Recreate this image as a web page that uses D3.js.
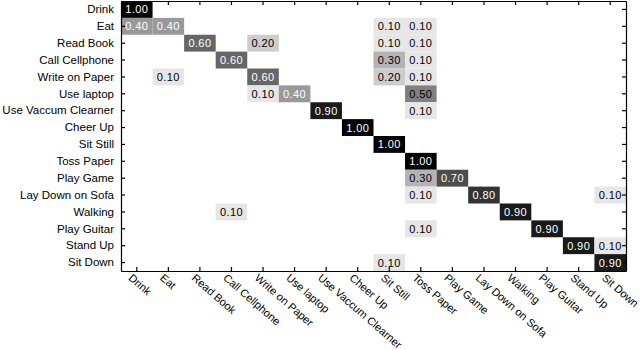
<!DOCTYPE html>
<html>
<head>
<meta charset="utf-8">
<script src="https://cdn.jsdelivr.net/npm/d3@7"></script>
<style>
  body { margin: 0; background: #fff; }
  text { font-family: "Liberation Sans", Arial, sans-serif; }
</style>
</head>
<body>
<script>
// activity names, same order for true rows and predicted columns
var labels = ['Drink', 'Eat', 'Read Book', 'Call Cellphone', 'Write on Paper',
  'Use laptop', 'Use Vaccum Clearner', 'Cheer Up', 'Sit Still', 'Toss Paper',
  'Play Game', 'Lay Down on Sofa', 'Walking', 'Play Guitar', 'Stand Up', 'Sit Down'];

// confusion matrix rows (true class) -> columns (predicted class)
var matrix = [
  [1.0, 0, 0, 0, 0, 0, 0, 0, 0, 0, 0, 0, 0, 0, 0, 0],
  [0.4, 0.4, 0, 0, 0, 0, 0, 0, 0.1, 0.1, 0, 0, 0, 0, 0, 0],
  [0, 0, 0.6, 0, 0.2, 0, 0, 0, 0.1, 0.1, 0, 0, 0, 0, 0, 0],
  [0, 0, 0, 0.6, 0, 0, 0, 0, 0.3, 0.1, 0, 0, 0, 0, 0, 0],
  [0, 0.1, 0, 0, 0.6, 0, 0, 0, 0.2, 0.1, 0, 0, 0, 0, 0, 0],
  [0, 0, 0, 0, 0.1, 0.4, 0, 0, 0, 0.5, 0, 0, 0, 0, 0, 0],
  [0, 0, 0, 0, 0, 0, 0.9, 0, 0, 0.1, 0, 0, 0, 0, 0, 0],
  [0, 0, 0, 0, 0, 0, 0, 1.0, 0, 0, 0, 0, 0, 0, 0, 0],
  [0, 0, 0, 0, 0, 0, 0, 0, 1.0, 0, 0, 0, 0, 0, 0, 0],
  [0, 0, 0, 0, 0, 0, 0, 0, 0, 1.0, 0, 0, 0, 0, 0, 0],
  [0, 0, 0, 0, 0, 0, 0, 0, 0, 0.3, 0.7, 0, 0, 0, 0, 0],
  [0, 0, 0, 0, 0, 0, 0, 0, 0, 0.1, 0, 0.8, 0, 0, 0, 0.1],
  [0, 0, 0, 0.1, 0, 0, 0, 0, 0, 0, 0, 0, 0.9, 0, 0, 0],
  [0, 0, 0, 0, 0, 0, 0, 0, 0, 0.1, 0, 0, 0, 0.9, 0, 0],
  [0, 0, 0, 0, 0, 0, 0, 0, 0, 0, 0, 0, 0, 0, 0.9, 0.1],
  [0, 0, 0, 0, 0, 0, 0, 0, 0.1, 0, 0, 0, 0, 0, 0, 0.9]
];

var w = 640, h = 350;
var plotLeft = 121, plotRight = 626, plotTop = 1, plotBottom = 271;

var cells = [];
matrix.forEach(function(row, i) {
  row.forEach(function(v, j) {
    if (v > 0) cells.push({ row: labels[i], col: labels[j], v: v });
  });
});

var x = d3.scaleBand().domain(labels).range([plotLeft, plotRight]);
var y = d3.scaleBand().domain(labels).range([plotTop, plotBottom]);
// inverted gray map: 0 -> white, 1 -> black
var color = d3.scaleLinear().domain([0, 1]).range(['#ffffff', '#000000']);

function textColor(v) {
  // reference shows white text on dark cells, black on light ones
  if (v >= 0.6 || (v > 0.35 && v < 0.45)) return '#fff';
  return '#000';
}

var svg = d3.select('body').append('svg')
  .attr('width', w)
  .attr('height', h);

svg.append('g').selectAll('rect')
  .data(cells)
  .enter()
  .append('rect')
    .attr('x', function(d) { return x(d.col); })
    .attr('y', function(d) { return y(d.row); })
    .attr('width', x.bandwidth())
    .attr('height', y.bandwidth())
    .attr('fill', function(d) { return color(d.v); });

svg.append('g').selectAll('text')
  .data(cells)
  .enter()
  .append('text')
    .attr('x', function(d) { return x(d.col) + x.bandwidth() / 2; })
    .attr('y', function(d) { return y(d.row) + y.bandwidth() / 2; })
    .attr('dy', '0.36em')
    .attr('text-anchor', 'middle')
    .attr('font-size', '11px')
    .attr('letter-spacing', '0.4px')
    .attr('fill', function(d) { return textColor(d.v); })
    .text(function(d) { return d.v.toFixed(2); });

// axes with inward ticks on all four sides
var gLeft = svg.append('g')
  .attr('transform', 'translate(' + plotLeft + ',0)')
  .call(d3.axisLeft(y).tickSizeInner(-4).tickSizeOuter(0).tickPadding(7));
svg.append('g')
  .attr('transform', 'translate(' + plotRight + ',0)')
  .call(d3.axisRight(y).tickSizeInner(-4).tickSizeOuter(0).tickFormat(''));
svg.append('g')
  .attr('transform', 'translate(0,' + plotTop + ')')
  .call(d3.axisTop(x).tickSizeInner(-4).tickSizeOuter(0).tickFormat(''));
var gBottom = svg.append('g')
  .attr('transform', 'translate(0,' + plotBottom + ')')
  .call(d3.axisBottom(x).tickSizeInner(-4).tickSizeOuter(0).tickFormat(''));

gLeft.selectAll('text')
  .attr('font-size', '11.5px')
  .attr('fill', '#000');

gBottom.selectAll('.tick')
  .append('text')
    .attr('fill', '#000')
    .attr('font-size', '11px')
    .attr('text-anchor', 'start')
    .attr('transform', 'translate(-9,8) rotate(41)')
    .text(function(d) { return d; });

svg.selectAll('.domain, .tick line')
  .attr('stroke', '#000')
  .attr('stroke-width', 1.2);
</script>
</body>
</html>
